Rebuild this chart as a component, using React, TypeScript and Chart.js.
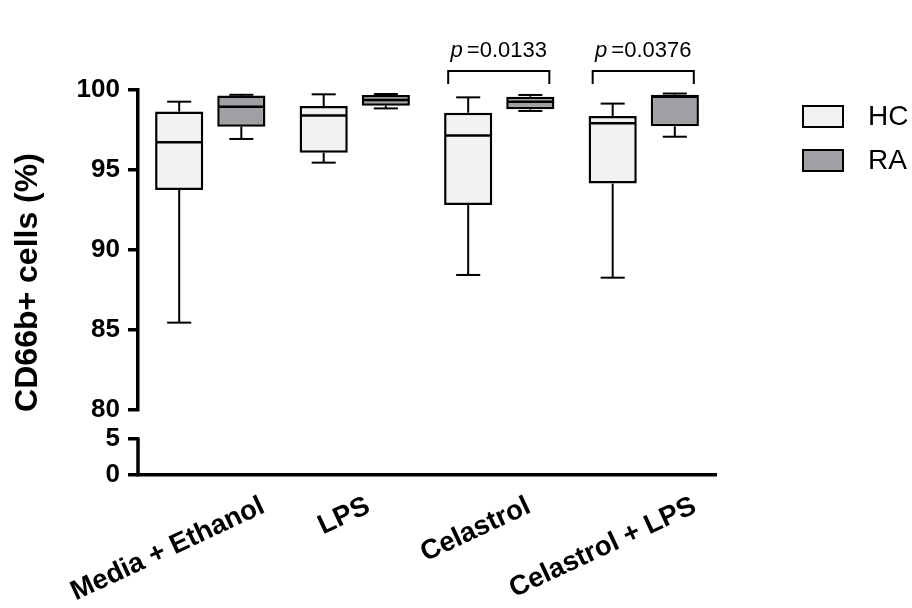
import React, { useEffect, useRef } from 'react';
import { Chart, registerables } from 'chart.js';

Chart.register(...registerables);

// ---- data ----
const categories = ['Media + Ethanol', 'LPS', 'Celastrol', 'Celastrol + LPS'];
const seriesNames = ['HC', 'RA'];
const seriesColors = ['#f2f2f2', '#a0a0a4'];

const hcMin = [85.46, 95.46, 88.44, 88.27];
const hcQ1 = [93.75, 96.08, 92.81, 94.15];
const hcMedian = [96.73, 98.4, 97.15, 97.92];
const hcQ3 = [98.65, 99.0, 98.58, 98.38];
const hcMax = [99.27, 99.73, 99.54, 99.15];

const raMin = [96.94, 98.85, 98.69, 97.08];
const raQ1 = [97.71, 99.02, 98.79, 97.73];
const raMedian = [98.96, 99.38, 99.27, 99.58];
const raQ3 = [99.65, 99.69, 99.58, 99.7];
const raMax = [99.7, 99.75, 99.69, 99.78];

const pValues = ['', '', '0.0133', '0.0376'];
const upperTicks = [80, 85, 90, 95, 100];
const lowerTicks = [0, 5];
const axisTitle = 'CD66b+ cells (%)';

const FONT = 'Arial, "Liberation Sans", Helvetica, sans-serif';

const stats = [
  { min: hcMin, q1: hcQ1, med: hcMedian, q3: hcQ3, max: hcMax },
  { min: raMin, q1: raQ1, med: raMedian, q3: raQ3, max: raMax },
];

function line(ctx: CanvasRenderingContext2D, x1: number, y1: number, x2: number, y2: number) {
  ctx.beginPath();
  ctx.moveTo(x1, y1);
  ctx.lineTo(x2, y2);
  ctx.stroke();
}

const extrasPlugin = {
  id: 'boxExtras',
  afterDatasetsDraw(chart: any) {
    const ctx: CanvasRenderingContext2D = chart.ctx;
    const y = chart.scales.y;
    ctx.save();
    ctx.strokeStyle = '#000';
    stats.forEach((s, di) => {
      const meta = chart.getDatasetMeta(di);
      meta.data.forEach((bar: any, i: number) => {
        const x = bar.x;
        const w = bar.width;
        const pMin = y.getPixelForValue(s.min[i]);
        const pQ1 = y.getPixelForValue(s.q1[i]);
        const pMed = y.getPixelForValue(s.med[i]);
        const pQ3 = y.getPixelForValue(s.q3[i]);
        const pMax = y.getPixelForValue(s.max[i]);
        ctx.lineWidth = 2;
        line(ctx, x, pQ3, x, pMax);
        line(ctx, x - w / 4, pMax, x + w / 4, pMax);
        line(ctx, x, pQ1, x, pMin);
        line(ctx, x - w / 4, pMin, x + w / 4, pMin);
        ctx.lineWidth = 2.5;
        line(ctx, x - w / 2 + 1, pMed, x + w / 2 - 1, pMed);
      });
    });
    ctx.restore();
  },
  afterDraw(chart: any) {
    const ctx: CanvasRenderingContext2D = chart.ctx;
    const area = chart.chartArea;
    const y = chart.scales.y;
    const yl = chart.scales.ylow;
    const xs = chart.scales.x;
    ctx.save();
    ctx.fillStyle = '#000';
    ctx.strokeStyle = '#000';

    // lower axis segment
    ctx.lineWidth = 3.5;
    line(ctx, area.left, yl.getPixelForValue(lowerTicks[lowerTicks.length - 1]) - 1.75, area.left, yl.getPixelForValue(lowerTicks[0]));

    // y axis title
    ctx.save();
    ctx.translate(37, (y.top + area.bottom) / 2);
    ctx.rotate(-Math.PI / 2);
    ctx.font = `bold 32px ${FONT}`;
    ctx.textAlign = 'center';
    ctx.textBaseline = 'alphabetic';
    ctx.fillText(axisTitle, 0, 0);
    ctx.restore();

    // x category labels (rotated)
    ctx.font = `bold 27.5px ${FONT}`;
    categories.forEach((c, i) => {
      const tx = xs.getPixelForValue(i);
      const W = ctx.measureText(c).width;
      ctx.save();
      ctx.translate(tx + 0.25 * W - 5.6, area.bottom + 17.5);
      ctx.rotate((-25 * Math.PI) / 180);
      ctx.textAlign = 'right';
      ctx.textBaseline = 'top';
      ctx.fillText(c, 0, 0);
      ctx.restore();
    });

    // significance brackets
    const m0 = chart.getDatasetMeta(0);
    const m1 = chart.getDatasetMeta(1);
    pValues.forEach((pv, i) => {
      if (!pv) return;
      const xl = m0.data[i].x - 20;
      const xr = m1.data[i].x + 19;
      const top = y.top - 19;
      const end = y.top - 6;
      ctx.lineWidth = 2;
      ctx.beginPath();
      ctx.moveTo(xl, end);
      ctx.lineTo(xl, top);
      ctx.lineTo(xr, top);
      ctx.lineTo(xr, end);
      ctx.stroke();
      const cx = (xl + xr) / 2;
      ctx.font = `italic 22px ${FONT}`;
      const wp = ctx.measureText('p').width;
      ctx.font = `22px ${FONT}`;
      const rest = '=' + pv;
      const wr = ctx.measureText(rest).width;
      const gap = 4;
      const start = cx - (wp + gap + wr) / 2;
      ctx.textAlign = 'left';
      ctx.textBaseline = 'alphabetic';
      ctx.font = `italic 22px ${FONT}`;
      ctx.fillText('p', start, y.top - 33);
      ctx.font = `22px ${FONT}`;
      ctx.fillText(rest, start + wp + gap, y.top - 33);
    });

    // legend
    seriesNames.forEach((name, i) => {
      const bx = area.right + 87;
      const by = y.top + 16 + i * 44;
      ctx.fillStyle = seriesColors[i];
      ctx.fillRect(bx, by, 40, 21);
      ctx.lineWidth = 2;
      ctx.strokeStyle = '#000';
      ctx.strokeRect(bx, by, 40, 21);
      ctx.fillStyle = '#000';
      ctx.font = `28px ${FONT}`;
      ctx.textAlign = 'left';
      ctx.textBaseline = 'middle';
      ctx.fillText(name, bx + 65, by + 11);
    });
    ctx.restore();
  },
};

export default function App() {
  const ref = useRef<HTMLCanvasElement | null>(null);
  useEffect(() => {
    if (!ref.current) return;
    const tickFont = { size: 26, weight: 'bold' as const, family: FONT };
    const chart = new Chart(ref.current, {
      type: 'bar',
      data: {
        labels: categories,
        datasets: [
          {
            label: seriesNames[0],
            data: hcQ1.map((q, i) => [q, hcQ3[i]]) as any,
            backgroundColor: seriesColors[0],
            borderColor: '#000',
            borderWidth: 2.5,
            borderSkipped: false,
            categoryPercentage: 0.86,
            barPercentage: 0.775,
            xAxisID: 'x',
            yAxisID: 'y',
          },
          {
            label: seriesNames[1],
            data: raQ1.map((q, i) => [q, raQ3[i]]) as any,
            backgroundColor: seriesColors[1],
            borderColor: '#000',
            borderWidth: 2.5,
            borderSkipped: false,
            categoryPercentage: 0.86,
            barPercentage: 0.775,
            xAxisID: 'x',
            yAxisID: 'y',
          },
        ],
      },
      options: {
        responsive: false,
        animation: false,
        layout: { padding: { left: 0, right: 196, top: 90, bottom: 133 } },
        plugins: { legend: { display: false }, tooltip: { enabled: false } },
        scales: {
          x: {
            type: 'category',
            grid: { display: false, drawTicks: false },
            ticks: { display: false },
            border: { display: true, color: '#000', width: 3.5 },
            afterFit: (s: any) => {
              s.height = 0;
            },
          },
          ylow: {
            type: 'linear',
            position: 'left',
            stack: 'v',
            stackWeight: 65,
            min: 0,
            max: 9.03,
            afterBuildTicks: (s: any) => {
              s.ticks = lowerTicks.map((v) => ({ value: v }));
            },
            ticks: { font: tickFont, color: '#000', padding: 8, autoSkip: false },
            grid: { drawOnChartArea: false, color: '#000', lineWidth: 3.5, tickLength: 10 },
            border: { display: false },
            afterFit: (s: any) => {
              s.width = 138;
            },
          },
          y: {
            type: 'linear',
            position: 'left',
            stack: 'v',
            stackWeight: 320,
            min: 80,
            max: 100,
            afterBuildTicks: (s: any) => {
              s.ticks = upperTicks.map((v) => ({ value: v }));
            },
            ticks: { font: tickFont, color: '#000', padding: 8, autoSkip: false },
            grid: { drawOnChartArea: false, color: '#000', lineWidth: 3.5, tickLength: 10 },
            border: { display: true, color: '#000', width: 3.5 },
            afterFit: (s: any) => {
              s.width = 138;
            },
          },
        },
      } as any,
      plugins: [extrasPlugin],
    });
    return () => chart.destroy();
  }, []);
  return (
    <div style={{ position: 'absolute', left: 0, top: 0, width: 912, height: 608, background: '#fff' }}>
      <canvas ref={ref} width={912} height={608} style={{ display: 'block' }} />
    </div>
  );
}
